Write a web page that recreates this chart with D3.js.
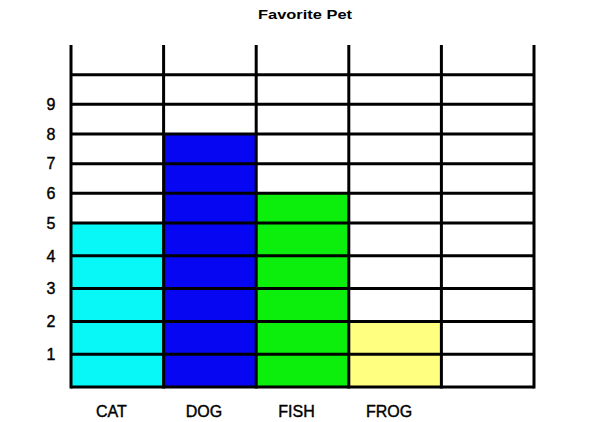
<!DOCTYPE html>
<html><head><meta charset="utf-8">
<script src="https://cdn.jsdelivr.net/npm/d3@7"></script>
<style>body{margin:0;background:#fff}svg{display:block}</style>
</head><body>
<script>
const title = "Favorite Pet";
const categories = ["CAT", "DOG", "FISH", "FROG", ""];
const values = [5, 8, 6, 2];
const colors = ["#08F8F8", "#0606F2", "#0CEE0C", "#FFFF80"];
const yTickLabels = [1, 2, 3, 4, 5, 6, 7, 8, 9];
const gridValues = [0, 1, 2, 3, 4, 5, 6, 7, 8, 9, 10];
const yMax = 11;

const W = 590, H = 422;
const svg = d3.select("body").append("svg").attr("width", W).attr("height", H);

const x = d3.scaleBand().domain(categories).range([71, 534]).paddingInner(0).paddingOuter(0);
const y = d3.scaleLinear().domain([0, 5, yMax]).range([387, 223, 45]);

// bars
svg.selectAll("rect.bar").data(values).join("rect")
  .attr("class", "bar")
  .attr("x", (d, i) => x(categories[i]))
  .attr("width", x.bandwidth())
  .attr("y", d => y(d))
  .attr("height", d => y(0) - y(d))
  .attr("fill", (d, i) => colors[i]);

// horizontal grid lines
svg.selectAll("line.h").data(gridValues).join("line")
  .attr("class", "h")
  .attr("x1", x.range()[0]).attr("x2", x.range()[1])
  .attr("y1", d => y(d)).attr("y2", d => y(d))
  .attr("stroke", "#000").attr("stroke-width", 3);

// vertical grid lines
const edges = categories.map(c => x(c)).concat([x.range()[1]]);
svg.selectAll("line.v").data(edges).join("line")
  .attr("class", "v")
  .attr("x1", d => d).attr("x2", d => d)
  .attr("y1", y(yMax)).attr("y2", y(0) + 1.5)
  .attr("stroke", "#000").attr("stroke-width", 3);

const font = "Liberation Sans, Arial, sans-serif";

// y labels
svg.selectAll("text.yl").data(yTickLabels).join("text")
  .attr("class", "yl")
  .attr("x", 51).attr("y", d => y(d))
  .attr("dy", "0.36em")
  .attr("text-anchor", "middle")
  .attr("font-family", font)
  .attr("font-size", 16)
  .attr("fill", "#000").attr("stroke", "#000").attr("stroke-width", 0.4)
  .text(d => d);

// category labels
svg.selectAll("text.xl").data(categories.filter(c => c)).join("text")
  .attr("class", "xl")
  .attr("x", d => x(d) + x.bandwidth() / 2 - 6)
  .attr("y", 417)
  .attr("text-anchor", "middle")
  .attr("font-family", font)
  .attr("font-size", 16)
  .attr("fill", "#000").attr("stroke", "#000").attr("stroke-width", 0.4)
  .text(d => d);

// title
svg.append("text")
  .attr("x", 305).attr("y", 18.5)
  .attr("text-anchor", "middle")
  .attr("font-family", font)
  .attr("font-size", 13)
  .attr("font-weight", "bold")
  .attr("textLength", 94).attr("lengthAdjust", "spacingAndGlyphs")
  .attr("fill", "#000")
  .text(title);
</script>
</body></html>
